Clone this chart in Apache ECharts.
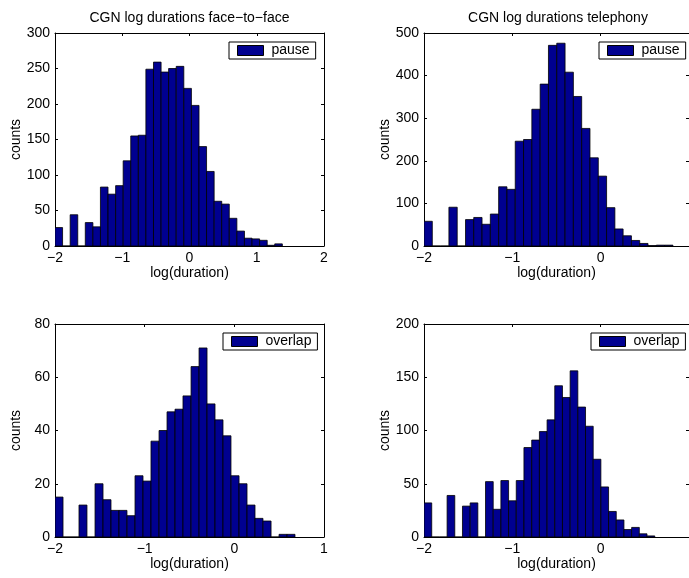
<!DOCTYPE html>
<html><head><meta charset="utf-8">
<script src="https://cdn.jsdelivr.net/npm/echarts@6/dist/echarts.min.js"></script>
<style>html,body{margin:0;padding:0;background:#fff}#c{width:689px;height:578px}</style>
</head><body><div id="c"></div>
<script>
const titles = ['CGN log durations face\u2212to\u2212face', 'CGN log durations telephony'];
const seriesNames = ['pause', 'pause', 'overlap', 'overlap'];
const xLabel = 'log(duration)';
const yLabel = 'counts';

// face-to-face pause
const binCenters1 = [-1.944,-1.831,-1.718,-1.606,-1.493,-1.380,-1.268,-1.155,-1.042,-0.930,-0.817,-0.704,-0.592,-0.479,-0.366,-0.254,-0.141,-0.028,0.085,0.197,0.310,0.423,0.535,0.648,0.761,0.873,0.986,1.099,1.211,1.324];
const counts1 = [26,0,44,0,33,27,83,73,85,120,155,156,249,259,245,250,253,222,198,140,105,63,59,39,21,11,10,8,1,3];
// telephony pause
const binCenters2 = [-1.953,-1.859,-1.765,-1.671,-1.577,-1.483,-1.390,-1.296,-1.202,-1.108,-1.014,-0.920,-0.826,-0.732,-0.638,-0.544,-0.450,-0.356,-0.262,-0.168,-0.074,0.020,0.114,0.207,0.301,0.395,0.489,0.583,0.677,0.771];
const counts2 = [58,0,0,91,0,62,67,51,75,139,133,246,250,321,380,471,476,408,351,276,207,164,90,40,24,13,6,1,2,2];
// face-to-face overlap
const binCenters3 = [-1.955,-1.866,-1.777,-1.688,-1.598,-1.509,-1.420,-1.331,-1.242,-1.152,-1.063,-0.974,-0.885,-0.795,-0.706,-0.617,-0.528,-0.438,-0.349,-0.260,-0.171,-0.082,0.008,0.097,0.186,0.275,0.365,0.454,0.543,0.632];
const counts3 = [15,0,0,12,0,20,14,10,10,8,23,21,36,40,47,48,53,64,71,50,44,38,23,20,12,7,6,0,1,1];
// telephony overlap
const binCenters4 = [-1.956,-1.869,-1.782,-1.695,-1.608,-1.521,-1.434,-1.347,-1.260,-1.173,-1.086,-0.999,-0.912,-0.825,-0.737,-0.650,-0.563,-0.476,-0.389,-0.302,-0.215,-0.128,-0.041,0.046,0.133,0.220,0.307,0.394,0.481,0.569];
const counts4 = [32,0,0,39,0,29,32,0,52,26,53,34,53,84,91,99,110,142,131,156,122,104,73,47,24,16,7,9,3,1];

const xTicks1 = [-2,-1,0,1,2];
const xTicks2 = [-2,-1,0,1];
const xTicks3 = [-2,-1,0,1];
const xTicks4 = [-2,-1,0,1];
const yTicks1 = [0,50,100,150,200,250,300];
const yTicks2 = [0,100,200,300,400,500];
const yTicks3 = [0,20,40,60,80];
const yTicks4 = [0,50,100,150,200];

const FONT = '"Liberation Sans", Arial, Helvetica, sans-serif';
const BAR = '#000090';
const panels = [
  {c: binCenters1, v: counts1, xt: xTicks1, yt: yTicks1, grid: {left:55, top:33, width:269, height:213}, legend: {left:229, top:42}, hideMaxX:false},
  {c: binCenters2, v: counts2, xt: xTicks2, yt: yTicks2, grid: {left:424, top:33, width:268, height:213}, legend: {left:599, top:42}, hideMaxX:true},
  {c: binCenters3, v: counts3, xt: xTicks3, yt: yTicks3, grid: {left:55, top:324, width:269, height:213}, legend: {left:223, top:333}, hideMaxX:false},
  {c: binCenters4, v: counts4, xt: xTicks4, yt: yTicks4, grid: {left:424, top:324, width:268, height:213}, legend: {left:591, top:333}, hideMaxX:true}
];

function fmt(v){ return v < 0 ? '\u2212' + Math.abs(v) : String(v); }
function makeRender(centers){
  const w = centers[1] - centers[0];
  return function(params, api){
    const x = api.value(0), y = api.value(1);
    const a = api.coord([x - w/2, y]);
    const b = api.coord([x + w/2, 0]);
    return {type:'rect', shape:{x:a[0], y:a[1], width:b[0]-a[0], height:b[1]-a[1]},
      style:{fill:BAR, stroke:'#000', lineWidth:0.8}};
  };
}

const grid = [], xAxis = [], yAxis = [], series = [], legend = [];
const tick = {show:true, inside:true, length:3, lineStyle:{color:'#000', width:1}};
const line = {show:true, onZero:false, lineStyle:{color:'#000', width:1}};
panels.forEach((p, i) => {
  grid.push(p.grid);
  const xmin = p.xt[0], xmax = p.xt[p.xt.length-1], xint = p.xt[1]-p.xt[0];
  const ymin = p.yt[0], ymax = p.yt[p.yt.length-1], yint = p.yt[1]-p.yt[0];
  xAxis.push({type:'value', gridIndex:i, position:'bottom', min:xmin, max:xmax, interval:xint,
    axisLine:line, axisTick:tick, splitLine:{show:false},
    axisLabel:{color:'#000', fontSize:14, fontFamily:FONT, margin:5, formatter:fmt, showMaxLabel: !p.hideMaxX},
    name:xLabel, nameLocation:'middle', nameGap:20, nameTextStyle:{color:'#000', fontSize:14, fontFamily:FONT}});
  xAxis.push({type:'value', gridIndex:i, position:'top', min:xmin, max:xmax, interval:xint,
    axisLine:line, axisTick:tick, splitLine:{show:false}, axisLabel:{show:false}});
  yAxis.push({type:'value', gridIndex:i, position:'left', min:ymin, max:ymax, interval:yint,
    axisLine:line, axisTick:tick, splitLine:{show:false},
    axisLabel:{color:'#000', fontSize:14, fontFamily:FONT, margin:5, formatter:fmt},
    name:yLabel, nameLocation:'middle', nameGap:32, nameTextStyle:{color:'#000', fontSize:14, fontFamily:FONT}});
  yAxis.push({type:'value', gridIndex:i, position:'right', min:ymin, max:ymax, interval:yint,
    axisLine:line, axisTick:tick, splitLine:{show:false}, axisLabel:{show:false}});
  series.push({type:'custom', name:seriesNames[i], xAxisIndex:2*i, yAxisIndex:2*i, clip:true,
    itemStyle:{color:BAR},
    encode:{x:0, y:1},
    data:p.c.map((c, k) => [c, p.v[k]]),
    renderItem:makeRender(p.c), silent:true, animation:false});
  legend.push({data:[seriesNames[i]], left:p.legend.left, top:p.legend.top, orient:'horizontal',
    icon:'rect', itemWidth:26, itemHeight:10, selectedMode:false,
    backgroundColor:'#fff', borderColor:'#000', borderWidth:1, padding:[1,6,1,8],
    itemStyle:{color:BAR, borderColor:'#000', borderWidth:1},
    textStyle:{color:'#000', fontSize:14, fontFamily:FONT, lineHeight:15, padding:[0,0,0,3]}});
});

const title = [
  {text:titles[0], left:189.5, top:11, textAlign:'center', padding:0,
   textStyle:{color:'#000', fontSize:14, fontWeight:'normal', fontFamily:FONT}},
  {text:titles[1], left:558, top:11, textAlign:'center', padding:0,
   textStyle:{color:'#000', fontSize:14, fontWeight:'normal', fontFamily:FONT}}
];

const chart = echarts.init(document.getElementById('c'), null, {renderer:'canvas'});
chart.setOption({animation:false, backgroundColor:'#fff', title, grid, xAxis, yAxis, series, legend});
</script>
</body></html>
